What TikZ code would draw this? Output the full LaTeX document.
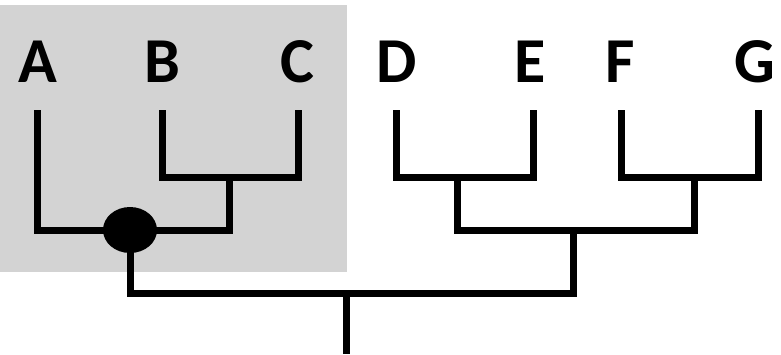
\documentclass[tikz,border=0pt]{standalone}
\usepackage{fontspec}
\setmainfont{Carlito}
\usepackage{tikz}
\usetikzlibrary{shapes.geometric}
\definecolor{cladegray}{RGB}{211,211,211}
\tikzset{
  branch/.style={line width=7pt},
  taxon/.style={font=\bfseries\fontsize{64}{64}\selectfont,anchor=base,inner sep=0pt},
  clade/.style={ellipse,fill=black,minimum width=54pt,minimum height=46pt,inner sep=0pt}
}

\begin{document}
\begin{tikzpicture}[x=1pt,y=-1pt]
\useasboundingbox (0,0) rectangle (781,354);
\fill[cladegray] (0,5) rectangle (347,272); % highlighted clade
% taxa
\node[taxon] (A) at (38,82) {A};
\node[taxon] (B) at (162,82) {B};
\node[taxon] (C) at (297,82) {C};
\node[taxon] (D) at (397,82) {D};
\node[taxon] (E) at (530,82) {E};
\node[taxon] (F) at (620,82) {F};
\node[taxon] (G) at (755,82) {G};
% tips and joints
\coordinate (ta) at (37,110);
\coordinate (tb) at (162,110);
\coordinate (tc) at (298,110);
\coordinate (td) at (396,110);
\coordinate (te) at (533,110);
\coordinate (tf) at (621,110);
\coordinate (tg) at (758,110);
\coordinate (bc) at (229,177);
\coordinate (de) at (457,177);
\coordinate (fg) at (694,177);
\coordinate (defg) at (573,230);
\coordinate (abc) at (130,230);
\coordinate (root) at (346,293);
\coordinate (base) at (346,354);
% branches
\draw[branch] (tb) |- (bc) -| (tc);
\draw[branch] (bc) |- (abc);
\draw[branch] (ta) |- (abc);
\draw[branch] (td) |- (de) -| (te);
\draw[branch] (tf) |- (fg) -| (tg);
\draw[branch] (de) |- (defg) -| (fg);
\draw[branch] (abc) |- (root) -| (defg);
\draw[branch] (root) -- (base);
\node[clade] (n1) at (abc) {};
\end{tikzpicture}
\end{document}
